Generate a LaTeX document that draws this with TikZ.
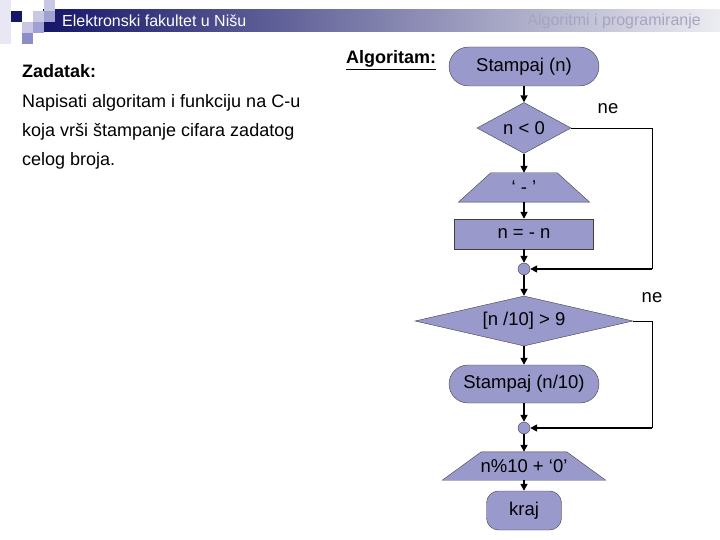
\documentclass[tikz,border=0pt]{standalone}
\usepackage{fontspec}
\setmainfont{Liberation Sans}
\usepackage{tikz}
\usetikzlibrary{positioning,calc,shapes.geometric,shapes.misc,arrows.meta,backgrounds}
\definecolor{ElfNavy}{RGB}{22,22,105}
\definecolor{ElfBar}{RGB}{236,236,242}
\definecolor{ElfFaint}{RGB}{232,232,244}
\definecolor{ElfPale}{RGB}{200,200,228}
\definecolor{ElfMid}{RGB}{160,160,210}
\definecolor{ElfDeep}{RGB}{140,140,200}
\definecolor{ElfLav}{RGB}{153,153,204}
\definecolor{ElfGrey}{RGB}{165,165,195}
\tikzset{
    blok/.style={draw=black!75, fill=ElfLav, thin, inner sep=0pt, font=\fontsize{18.5}{22}\selectfont},
    terminal/.style={blok, rounded rectangle, minimum width=150pt, minimum height=39pt},
    odluka/.style={blok, diamond},
    izlaz/.style={rectangle, inner sep=0pt, font=\fontsize{18.5}{22}\selectfont},
    trapez/.style={draw=black!75, fill=ElfLav, thin},
    obrada/.style={blok, rectangle, minimum width=139pt, minimum height=30pt},
    spoj/.style={blok, circle, minimum size=12pt}
}

\begin{document}
\begin{tikzpicture}[
        x=1pt, y=-1pt,
        % --- LINIJE ---
        tok/.style={-{Triangle[length=7pt,width=7pt]}, line width=1.6pt},
        povrat/.style={draw, line width=0.8pt},
        % --- TEKST ---
        tekst/.style={anchor=base west, inner sep=0pt, font=\fontsize{18}{22}\selectfont},
        zaglavlje/.style={anchor=west, inner sep=0pt, font=\fontsize{16}{18}\selectfont},
        oznaka/.style={inner sep=1pt, font=\fontsize{18.5}{22}\selectfont}
    ]
    \useasboundingbox (0,0) rectangle (720,540);

    % --- ZAGLAVLJE ---
    \shade[left color=ElfNavy, right color=ElfBar] (43,10) rectangle (720,32);
    \foreach \kx/\ky/\kb in {0/0/ElfFaint, 0/11/ElfFaint, 0/22/ElfFaint, 0/33/ElfFaint,
                             11/11/ElfNavy, 33/11/ElfPale, 44/0/ElfPale, 44/11/ElfMid,
                             22/22/ElfPale, 33/22/ElfMid, 22/33/ElfDeep}
        \fill[\kb] (\kx,\ky) rectangle ++(11,11);
    \node[zaglavlje, text=white] (fakultet) at (62,21) {Elektronski fakultet u Nišu};
    \node[zaglavlje, anchor=east, text=ElfGrey] (predmet) at (701,21) {Algoritmi i programiranje};

    % --- ZADATAK ---
    \node[tekst, font=\fontsize{18}{22}\selectfont\bfseries] (zadatak) at (22,78) {Zadatak:};
    \node[tekst] (red1) at (22,108) {Napisati algoritam i funkciju na C-u};
    \node[tekst] (red2) at (22,137) {koja vrši štampanje cifara zadatog};
    \node[tekst] (red3) at (22,166) {celog broja.};
    \node[tekst, font=\fontsize{18}{20}\selectfont\bfseries] (algoritam) at (346,64) {\underline{Algoritam:}};

    % --- DIJAGRAM ---
    \node[terminal] (start) at (524,66.5) {Stampaj (n)};
    \node[odluka, aspect=1.84, minimum width=94pt, minimum height=51pt] (neg) at (524,128) {n < 0};
    \node[izlaz, minimum width=131pt, minimum height=29pt] (minus) at (524,187.5) {‘ - ’};
    \node[obrada] (negiraj) at (524,234) {n = - n};
    \node[spoj] (spoj1) at (524,269) {};
    \node[odluka, aspect=4.36, minimum width=218pt, minimum height=50pt] (uslov) at (524,321) {[n /10] > 9};
    \node[terminal, minimum height=38pt] (rek) at (524,384) {Stampaj (n/10)};
    \node[spoj] (spoj2) at (524,428) {};
    \node[izlaz, minimum width=163pt, minimum height=28pt] (cifra) at (524,466) {n\%10 + ‘0’};
    \node[blok, rounded corners=12pt, minimum width=75pt, minimum height=39pt] (kraj) at (524,510.5) {kraj};
    \node[oznaka] (ne1) at (608,109) {ne};
    \node[oznaka] (ne2) at (652,298) {ne};
    \coordinate (desno) at (652,0);

    % --- TRAPEZI (izlaz) ---
    \begin{scope}[on background layer]
        \filldraw[trapez] (minus.south west) -- (minus.south east)
            -- ([xshift=-32.5pt]minus.north east) -- ([xshift=32.5pt]minus.north west) -- cycle;
        \filldraw[trapez] (cifra.south west) -- (cifra.south east)
            -- ([xshift=-39pt]cifra.north east) -- ([xshift=39pt]cifra.north west) -- cycle;
    \end{scope}

    % --- VEZE ---
    \draw[tok] (start) -- (neg);
    \draw[tok] (neg) -- (minus);
    \draw[tok] (minus) -- (negiraj);
    \draw[tok] (negiraj) -- (spoj1);
    \draw[tok] (spoj1) -- (uslov);
    \draw[tok] (uslov) -- (rek);
    \draw[tok] (rek) -- (spoj2);
    \draw[tok] (spoj2) -- (cifra);
    \draw[tok] (cifra) -- (kraj);
    \draw[povrat] (neg.east) -- (neg.east -| desno) -- (spoj1 -| desno);
    \draw[tok] (spoj1 -| desno) -- (spoj1);
    \draw[povrat] (uslov.east) -- (uslov.east -| desno) -- (spoj2 -| desno);
    \draw[tok] (spoj2 -| desno) -- (spoj2);

\end{tikzpicture}
\end{document}
